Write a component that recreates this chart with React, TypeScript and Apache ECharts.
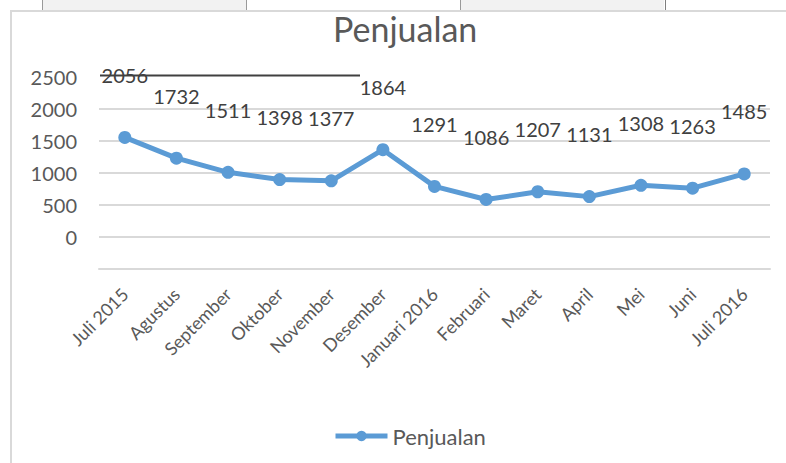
import React, { useEffect, useRef } from "react";
import * as echarts from "echarts";

const titleText = "Penjualan";
const seriesName = "Penjualan";
const categories = [
  "Juli 2015", "Agustus", "September", "Oktober", "November", "Desember",
  "Januari 2016", "Februari", "Maret", "April", "Mei", "Juni", "Juli 2016",
];
const values = [2056, 1732, 1511, 1398, 1377, 1864, 1291, 1086, 1207, 1131, 1308, 1263, 1485];
// data axis (gridlines) and the shifted label axis shown on the left
const dataAxisMin = 0;
const dataAxisMax = 3000;
const labelAxisMin = -500;
const labelAxisMax = 2500;
const axisStep = 500;

const FONT = "Lato, 'Open Sans', sans-serif";

export default function App() {
  const ref = useRef<HTMLDivElement>(null);
  useEffect(() => {
    if (!ref.current) return;
    const chart = echarts.init(ref.current, null, { renderer: "svg" });
    chart.setOption({
      animation: false,
      backgroundColor: "#ffffff",
      title: {
        text: titleText,
        left: 328,
        top: 6,
        textStyle: { fontFamily: FONT, fontSize: 34, fontWeight: "normal", color: "#595959" },
      },
      legend: {
        data: [seriesName],
        left: 328,
        top: 420,
        itemWidth: 52,
        itemHeight: 13,
        itemGap: 10,
        lineStyle: { width: 5 },
        textStyle: { fontFamily: FONT, fontSize: 22, color: "#595959" },
      },
      grid: { left: 99, right: 16, top: 77, bottom: 194, containLabel: false },
      xAxis: {
        type: "category",
        data: categories,
        boundaryGap: true,
        axisLine: { show: true, lineStyle: { color: "#d9d9d9", width: 2 } },
        axisTick: { show: false },
        axisLabel: {
          interval: 0,
          rotate: 45,
          margin: 22,
          fontFamily: FONT,
          fontSize: 18,
          color: "#595959",
        },
      },
      yAxis: [
        {
          type: "value",
          min: dataAxisMin,
          max: dataAxisMax,
          interval: axisStep,
          position: "left",
          axisLabel: { show: false },
          axisLine: { show: false },
          axisTick: { show: false },
          splitLine: {
            show: true,
            showMaxLine: false,
            lineStyle: { color: "#d9d9d9", width: 2 },
          },
        },
        {
          type: "value",
          min: labelAxisMin,
          max: labelAxisMax,
          interval: axisStep,
          position: "left",
          axisLine: { show: false },
          axisTick: { show: false },
          splitLine: { show: false },
          axisLabel: {
            margin: 22,
            fontFamily: FONT,
            fontSize: 20,
            color: "#595959",
            formatter: (v: number) => (v < 0 ? "" : String(v)),
          },
        },
      ],
      series: [
        {
          name: seriesName,
          type: "line",
          yAxisIndex: 0,
          data: values,
          symbol: "circle",
          symbolSize: 13,
          itemStyle: { color: "#5b9bd5" },
          lineStyle: { color: "#5b9bd5", width: 5 },
          label: {
            show: true,
            position: "top",
            offset: [0, -41],
            fontFamily: FONT,
            fontSize: 20,
            color: "#404040",
          },
        },
      ],
      graphic: [
        { type: "rect", shape: { x: 0, y: 0, width: 786, height: 10 }, style: { fill: "#ffffff" }, silent: true },
        { type: "rect", shape: { x: 42, y: 0, width: 204, height: 10 }, style: { fill: "#f2f2f2" }, silent: true },
        { type: "rect", shape: { x: 460, y: 0, width: 204, height: 10 }, style: { fill: "#f2f2f2" }, silent: true },
        { type: "line", shape: { x1: 42.5, y1: 0, x2: 42.5, y2: 10 }, style: { stroke: "#9a9a9a", lineWidth: 1 }, silent: true },
        { type: "line", shape: { x1: 246.5, y1: 0, x2: 246.5, y2: 10 }, style: { stroke: "#9a9a9a", lineWidth: 1 }, silent: true },
        { type: "line", shape: { x1: 460.5, y1: 0, x2: 460.5, y2: 10 }, style: { stroke: "#9a9a9a", lineWidth: 1 }, silent: true },
        { type: "line", shape: { x1: 665.5, y1: 0, x2: 665.5, y2: 10 }, style: { stroke: "#7f7f7f", lineWidth: 1 }, silent: true },
        { type: "rect", shape: { x: 11, y: 11, width: 800, height: 500 }, style: { fill: "none", stroke: "#d9d9d9", lineWidth: 2 }, silent: true },
        { type: "line", shape: { x1: 100, y1: 75.5, x2: 360, y2: 75.5 }, style: { stroke: "#404040", lineWidth: 2 }, silent: true, z: 10 },
      ],
    });
    return () => chart.dispose();
  }, []);
  return (
    <div
      ref={ref}
      style={{ position: "fixed", left: 0, top: 0, width: 786, height: 463 }}
    />
  );
}
